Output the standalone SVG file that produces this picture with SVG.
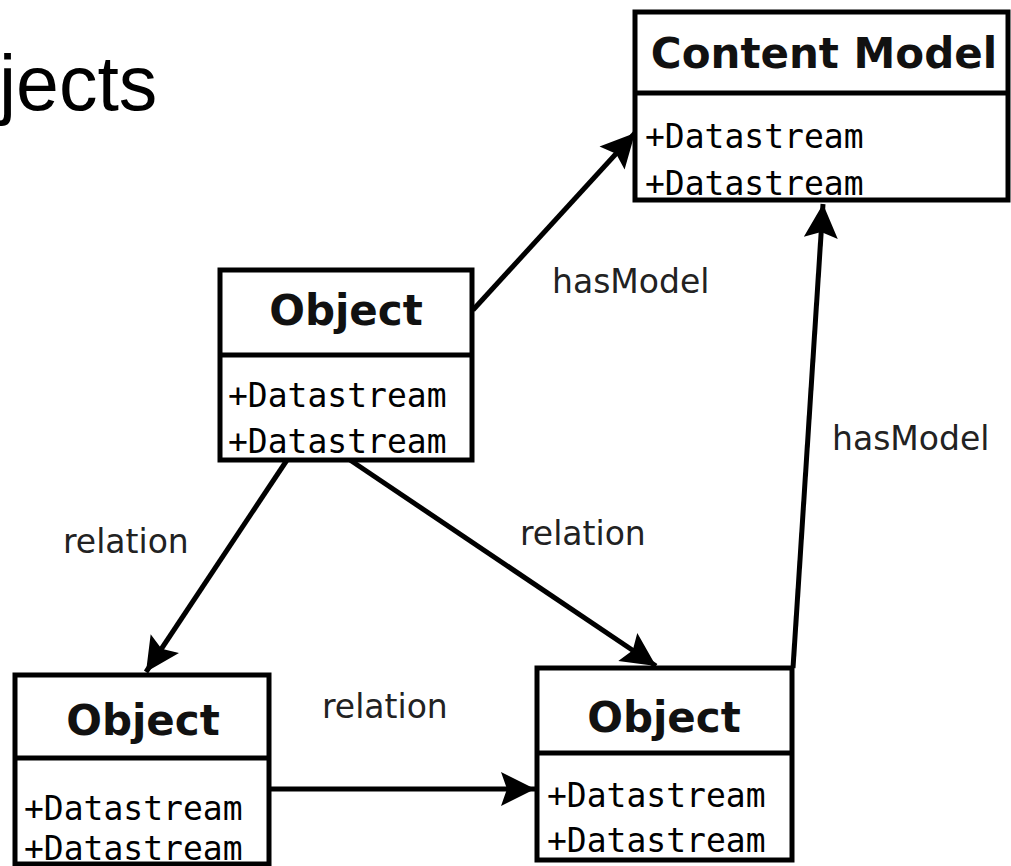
<svg xmlns="http://www.w3.org/2000/svg" width="1011" height="866" viewBox="0 0 1011 866">
  <style>
    .box { fill: #fff; stroke: #000; stroke-width: 5; }
    .div { stroke: #000; stroke-width: 5; }
    .title { font-family: "DejaVu Sans", sans-serif; font-weight: bold; font-size: 42px; fill: #111; text-anchor: middle; }
    .attr { font-family: "DejaVu Sans Mono", monospace; font-size: 33px; fill: #000; }
    .lbl { font-family: "DejaVu Sans", sans-serif; font-size: 33px; fill: #222; }
    .edge { stroke: #000; stroke-width: 5; fill: none; marker-end: url(#head); }
    .heading { font-family: "Liberation Sans", Arial, sans-serif; font-size: 77px; fill: #000; }
  </style>
  <defs>
    <!-- filled arrowhead with a shallow notch at the back -->
    <marker id="head" markerUnits="userSpaceOnUse" markerWidth="40" markerHeight="40" viewBox="-36 -20 38 40" refX="0" refY="0" orient="auto">
      <path d="M0,0 L-34,-17 L-28,0 L-34,17 Z" fill="#000"/>
    </marker>
  </defs>

  <rect width="1011" height="866" fill="#fff"/>

  <text class="heading" x="-1" y="110">jects</text>

  <!-- connectors -->
  <g id="connectors">
    <line class="edge" x1="473" y1="310" x2="635" y2="133"/>
    <line class="edge" x1="793" y1="668" x2="823" y2="204"/>
    <line class="edge" x1="287" y1="460" x2="146" y2="672"/>
    <line class="edge" x1="350" y1="460" x2="656" y2="666"/>
    <line class="edge" x1="269" y1="789" x2="535" y2="789"/>
    <text class="lbl" x="552" y="293">hasModel</text>
    <text class="lbl" x="832" y="450">hasModel</text>
    <text class="lbl" x="63" y="553">relation</text>
    <text class="lbl" x="520" y="545">relation</text>
    <text class="lbl" x="322" y="718">relation</text>
  </g>

  <g id="content-model">
    <rect class="box" x="635" y="12" width="373" height="188"/>
    <line class="div" x1="635" y1="93" x2="1008" y2="93"/>
    <text class="title" x="824" y="68">Content Model</text>
    <text class="attr" x="645" y="148">+Datastream</text>
    <text class="attr" x="645" y="195">+Datastream</text>
  </g>

  <g id="object-top">
    <rect class="box" x="220" y="270" width="252" height="190"/>
    <line class="div" x1="220" y1="355" x2="472" y2="355"/>
    <text class="title" x="346" y="325">Object</text>
    <text class="attr" x="228" y="407">+Datastream</text>
    <text class="attr" x="228" y="453">+Datastream</text>
  </g>

  <g id="object-left">
    <rect class="box" x="15" y="675" width="254" height="189"/>
    <line class="div" x1="15" y1="758" x2="269" y2="758"/>
    <text class="title" x="143" y="735">Object</text>
    <text class="attr" x="24" y="820">+Datastream</text>
    <text class="attr" x="24" y="860">+Datastream</text>
  </g>

  <g id="object-right">
    <rect class="box" x="537" y="668" width="255" height="192"/>
    <line class="div" x1="537" y1="753" x2="792" y2="753"/>
    <text class="title" x="664" y="732">Object</text>
    <text class="attr" x="547" y="807">+Datastream</text>
    <text class="attr" x="547" y="852">+Datastream</text>
  </g>
</svg>
